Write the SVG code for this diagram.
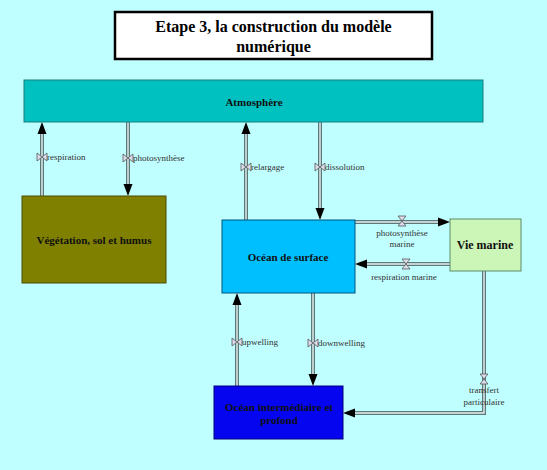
<svg xmlns="http://www.w3.org/2000/svg" width="547" height="470" viewBox="0 0 547 470">
<defs>
<marker id="ah" markerUnits="userSpaceOnUse" markerWidth="12" markerHeight="12" viewBox="0 0 12 12" refX="12" refY="6" orient="auto">
<path d="M0,1.5 L12,6 L0,10.5 Z" fill="#000"/>
</marker>
</defs>
<style>
text{font-family:"Liberation Serif","Times New Roman","DejaVu Serif",serif}
.node text{font-weight:bold;font-size:11px;text-anchor:middle;fill:#101010}
.pipe{fill:none;stroke:#5c7878;stroke-width:4}
.pin{fill:none;stroke:#e6f2f2;stroke-width:1.4}
.lbl{font-size:9px;fill:#333}
.mid{text-anchor:middle}
.valve{fill:#dde;stroke:#555;stroke-width:0.8}
.ttl{font-weight:bold;font-size:16px;text-anchor:middle;fill:#000}
.deep{font-weight:bold;font-size:12px;fill:#000050}
</style>
<rect x="0" y="0" width="547" height="470" fill="#c0ffff"/>
<g id="title">
<rect x="115" y="12" width="317" height="47" fill="#fff" stroke="#000" stroke-width="2.5"/>
<text class="ttl" x="273.5" y="32">Etape 3, la construction du modèle</text>
<text class="ttl" x="273.5" y="52">numérique</text>
</g>
<g id="connectors">
<path class="pipe" d="M42,196 V127"/><path class="pin" d="M42,196 V122" marker-end="url(#ah)"/>
<path class="pipe" d="M128,122 V191"/><path class="pin" d="M128,122 V196" marker-end="url(#ah)"/>
<path class="pipe" d="M246,220 V127"/><path class="pin" d="M246,220 V122" marker-end="url(#ah)"/>
<path class="pipe" d="M320,122 V215"/><path class="pin" d="M320,122 V220" marker-end="url(#ah)"/>
<path class="pipe" d="M355,222 H445"/><path class="pin" d="M355,222 H450" marker-end="url(#ah)"/>
<path class="pipe" d="M450,264 H360"/><path class="pin" d="M450,264 H355" marker-end="url(#ah)"/>
<path class="pipe" d="M237,386 V298"/><path class="pin" d="M237,386 V293" marker-end="url(#ah)"/>
<path class="pipe" d="M313,293 V381"/><path class="pin" d="M313,293 V386" marker-end="url(#ah)"/>
<path class="pipe" d="M484,271 V413 H348"/><path class="pin" d="M484,271 V413 H343" marker-end="url(#ah)"/>
<path class="valve" d="M37,153 V161 L47,153 V161 Z"/>
<path class="valve" d="M123,154 V162 L133,154 V162 Z"/>
<path class="valve" d="M241,163 V171 L251,163 V171 Z"/>
<path class="valve" d="M315,163 V171 L325,163 V171 Z"/>
<path class="valve" d="M232,338 V346 L242,338 V346 Z"/>
<path class="valve" d="M308,339 V347 L318,339 V347 Z"/>
<path class="valve" d="M398,216 H406 L398,226 H406 Z"/>
<path class="valve" d="M402,259 H410 L402,269 H410 Z"/>
<path class="valve" d="M480,374 H488 L480,384 H488 Z"/>
<text class="lbl" x="47" y="160">respiration</text>
<text class="lbl" x="133" y="161">photosynthèse</text>
<text class="lbl" x="251" y="170">relargage</text>
<text class="lbl" x="325" y="170">dissolution</text>
<text class="lbl" x="242" y="345">upwelling</text>
<text class="lbl" x="318" y="346">downwelling</text>
<text class="lbl mid" x="402" y="236">photosynthèse</text>
<text class="lbl mid" x="402" y="247">marine</text>
<text class="lbl mid" x="404" y="280">respiration marine</text>
<text class="lbl mid" x="484" y="393">transfert</text>
<text class="lbl mid" x="484" y="405">particulaire</text>
</g>
<g id="atmosphere" class="node">
<rect x="24" y="80" width="459" height="42" fill="#00c0c0" stroke="#1a7f7f" stroke-width="1"/>
<text x="254" y="106">Atmosphère</text>
</g>
<g id="vegetation" class="node">
<rect x="22" y="196" width="144" height="87" fill="#808000" stroke="#4d4d00" stroke-width="1"/>
<text x="94" y="244">Végétation, sol et humus</text>
</g>
<g id="ocean-surface" class="node">
<rect x="222" y="220" width="133" height="73" fill="#00bfff" stroke="#00557a" stroke-width="1"/>
<text x="288" y="261">Océan de surface</text>
</g>
<g id="vie-marine" class="node">
<rect x="450" y="219" width="71" height="52" fill="#ccf5b8" stroke="#5a8a6a" stroke-width="1"/>
<text x="485" y="249" style="font-size:12px">Vie marine</text>
</g>
<g id="ocean-profond" class="node">
<rect x="214" y="386" width="129" height="53" fill="#0505f0" stroke="#00007a" stroke-width="1"/>
<text class="deep" x="279" y="411">Océan intermédiaire et</text>
<text class="deep" x="279" y="424">profond</text>
</g>
</svg>
